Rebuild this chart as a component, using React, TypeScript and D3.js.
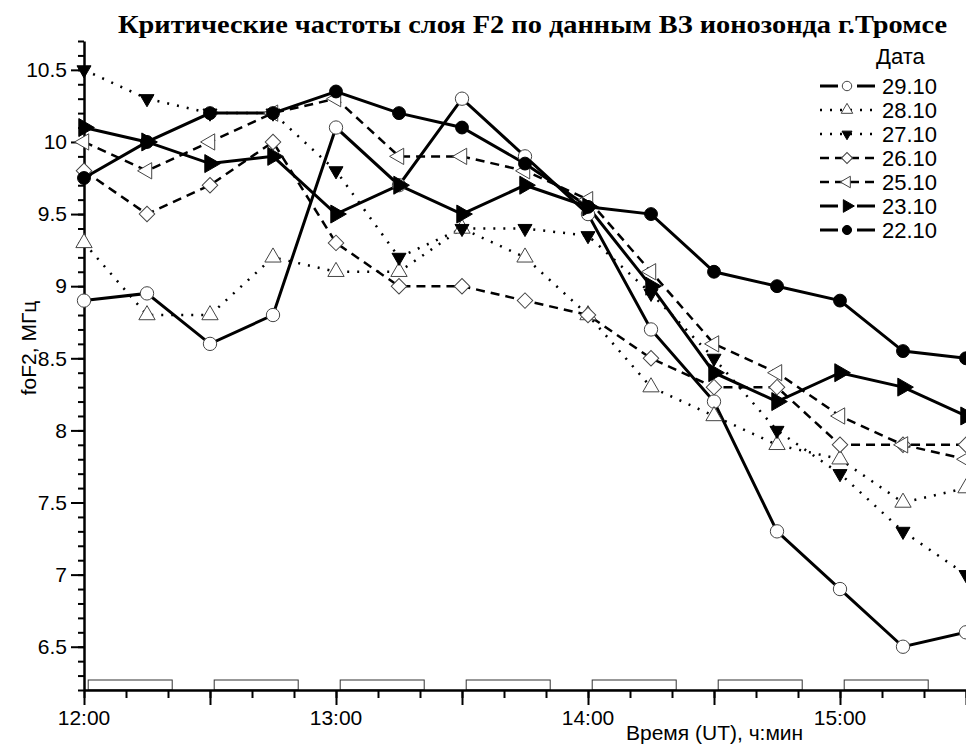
import React, { useRef, useEffect } from "react";
import * as d3 from "d3";

// minutes after 12:00 UT
const times = [0, 15, 30, 45, 60, 75, 90, 105, 120, 135, 150, 165, 180, 195, 210];

const dates = ["29.10", "28.10", "27.10", "26.10", "25.10", "23.10", "22.10"];

const fo29 = [8.9, 8.95, 8.6, 8.8, 10.1, 9.7, 10.3, 9.9, 9.5, 8.7, 8.2, 7.3, 6.9, 6.5, 6.6];
const fo28 = [9.3, 8.8, 8.8, 9.2, 9.1, 9.1, 9.4, 9.2, 8.8, 8.3, 8.1, 7.9, 7.8, 7.5, 7.6];
const fo27 = [10.5, 10.3, 10.2, 10.2, 9.8, 9.2, 9.4, 9.4, 9.35, 8.95, 8.5, 8.0, 7.7, 7.3, 7.0];
const fo26 = [9.8, 9.5, 9.7, 10.0, 9.3, 9.0, 9.0, 8.9, 8.8, 8.5, 8.3, 8.3, 7.9, 7.9, 7.9];
const fo25 = [10.0, 9.8, 10.0, 10.2, 10.3, 9.9, 9.9, 9.8, 9.6, 9.1, 8.6, 8.4, 8.1, 7.9, 7.8];
const fo23 = [10.1, 10.0, 9.85, 9.9, 9.5, 9.7, 9.5, 9.7, 9.55, 9.0, 8.4, 8.2, 8.4, 8.3, 8.1];
const fo22 = [9.75, 10.0, 10.2, 10.2, 10.35, 10.2, 10.1, 9.85, 9.55, 9.5, 9.1, 9.0, 8.9, 8.55, 8.5];

// sounding intervals drawn along the time axis (start minute, 20 min long)
const soundStarts = [1, 31, 61, 91, 121, 151, 181];
const soundLength = 20;

const hourTicks = [0, 60, 120, 180];
const hourLabels = ["12:00", "13:00", "14:00", "15:00"];

const title = "Критические частоты слоя F2 по данным ВЗ ионозонда г.Тромсе";

const App = () => {
  const ref = useRef<SVGSVGElement | null>(null);

  useEffect(() => {
    const svg = d3.select(ref.current);
    svg.selectAll("*").remove();

    const sans = "'Liberation Sans', Arial, sans-serif";
    const x = d3.scaleLinear().domain([0, 210]).range([84, 966]);
    const y = d3.scaleLinear().domain([6.2, 10.7]).range([690, 41]);

    // styles per series: line dash, marker type, filled or not
    const styles = [
      { dash: null, width: 3, sym: d3.symbolCircle, rot: 0, fill: false, size: 140 },
      { dash: "2,8", width: 2.5, sym: d3.symbolTriangle, rot: 0, fill: false, size: 115 },
      { dash: "2,8", width: 2.5, sym: d3.symbolTriangle, rot: 180, fill: true, size: 85 },
      { dash: "9,6", width: 2.5, sym: d3.symbolSquare, rot: 45, fill: false, size: 120 },
      { dash: "9,6", width: 2.5, sym: d3.symbolTriangle, rot: -90, fill: false, size: 115 },
      { dash: null, width: 3, sym: d3.symbolTriangle, rot: 90, fill: true, size: 140 },
      { dash: null, width: 3, sym: d3.symbolCircle, rot: 0, fill: true, size: 130 },
    ];
    const allSeries = [fo29, fo28, fo27, fo26, fo25, fo23, fo22];

    // title
    svg
      .append("text")
      .attr("x", 118)
      .attr("y", 33)
      .attr("textLength", 829)
      .attr("lengthAdjust", "spacingAndGlyphs")
      .style("font-family", "'Liberation Serif', 'Times New Roman', serif")
      .style("font-weight", "bold")
      .style("font-size", "26px")
      .text(title);

    // sounding rectangles
    svg
      .append("g")
      .selectAll("rect")
      .data(soundStarts)
      .enter()
      .append("rect")
      .attr("x", (d) => x(d))
      .attr("y", 680)
      .attr("width", (d) => x(d + soundLength) - x(d))
      .attr("height", 10)
      .attr("fill", "#fff")
      .attr("stroke", "#333")
      .attr("stroke-width", 1);

    // y axis
    const yMinor = svg.append("g").attr("transform", "translate(84,0)");
    yMinor.call(
      d3.axisLeft(y).tickValues(d3.range(62, 108).map((v) => v / 10)).tickSize(6).tickSizeOuter(0).tickFormat(() => "")
    );
    const yMajor = svg.append("g").attr("transform", "translate(84,0)");
    yMajor.call(
      d3
        .axisLeft(y)
        .tickValues([6.5, 7, 7.5, 8, 8.5, 9, 9.5, 10, 10.5])
        .tickSize(13)
        .tickPadding(4)
        .tickSizeOuter(0)
        .tickFormat((d) => String(d))
    );
    yMajor.select(".domain").remove();
    yMinor.select(".domain").attr("stroke-width", 2.5);
    yMajor.selectAll("text").style("font-family", sans).style("font-size", "21px").attr("fill", "#000");

    // x axis
    const xMinor = svg.append("g").attr("transform", "translate(0,690)");
    xMinor.call(
      d3.axisBottom(x).tickValues(d3.range(0, 211, 10)).tickSize(8).tickSizeOuter(0).tickFormat(() => "")
    );
    const xMajor = svg.append("g").attr("transform", "translate(0,690)");
    xMajor.call(
      d3.axisBottom(x).tickValues(d3.range(0, 211, 30)).tickSize(15).tickSizeOuter(0).tickFormat(() => "")
    );
    xMajor.select(".domain").remove();
    xMinor.select(".domain").attr("stroke-width", 2.5);
    svg.selectAll(".tick line").attr("stroke-width", 2);

    svg
      .append("g")
      .selectAll("text")
      .data(hourTicks)
      .enter()
      .append("text")
      .attr("x", (d) => x(d))
      .attr("y", 725)
      .attr("text-anchor", "middle")
      .style("font-family", sans)
      .style("font-size", "21px")
      .text((d, i) => hourLabels[i]);

    // axis titles
    svg
      .append("text")
      .attr("x", 626)
      .attr("y", 740)
      .style("font-family", sans)
      .style("font-size", "21px")
      .text("Время (UT), ч:мин");
    svg
      .append("text")
      .attr("transform", "translate(36,348) rotate(-90)")
      .attr("text-anchor", "middle")
      .style("font-family", sans)
      .style("font-size", "21px")
      .text("foF2, МГц");

    // lines
    const line = d3
      .line<number>()
      .x((d, i) => x(times[i]))
      .y((d) => y(d));

    allSeries.forEach((vals, k) => {
      const s = styles[k];
      svg
        .append("path")
        .attr("d", line(vals))
        .attr("fill", "none")
        .attr("stroke", "#000")
        .attr("stroke-width", s.width)
        .attr("stroke-dasharray", s.dash);
    });

    // markers
    allSeries.forEach((vals, k) => {
      const s = styles[k];
      const sym = d3.symbol().type(s.sym).size(s.size);
      svg
        .append("g")
        .selectAll("path")
        .data(vals)
        .enter()
        .append("path")
        .attr("d", sym)
        .attr("transform", (d, i) => `translate(${x(times[i])},${y(d)}) rotate(${s.rot})`)
        .attr("fill", s.fill ? "#000" : "#fff")
        .attr("stroke", s.fill ? "#000" : "#444")
        .attr("stroke-width", 1);
    });

    // legend
    const lg = svg.append("g");
    lg.append("text")
      .attr("x", 876)
      .attr("y", 56)
      .attr("dy", "0.36em")
      .style("font-family", sans)
      .style("font-size", "22px")
      .text("Дата");

    dates.forEach((name, k) => {
      const s = styles[k];
      const cy = 86 + k * 24;
      lg.append("line")
        .attr("x1", 820)
        .attr("x2", 875)
        .attr("y1", cy)
        .attr("y2", cy)
        .attr("stroke", "#000")
        .attr("stroke-width", s.width)
        .attr("stroke-dasharray", s.dash ? s.dash : "18,19");
      lg.append("path")
        .attr("d", d3.symbol().type(s.sym).size(s.size * 0.5)())
        .attr("transform", `translate(847,${cy}) rotate(${s.rot})`)
        .attr("fill", s.fill ? "#000" : "#fff")
        .attr("stroke", s.fill ? "#000" : "#444")
        .attr("stroke-width", 1);
      lg.append("text")
        .attr("x", 882)
        .attr("y", cy)
        .attr("dy", "0.36em")
        .style("font-family", sans)
        .style("font-size", "22px")
        .text(name);
    });
  }, []);

  return (
    <svg
      ref={ref}
      width={966}
      height={749}
      style={{ position: "absolute", left: 0, top: 0, background: "#fff" }}
    />
  );
};

export default App;
